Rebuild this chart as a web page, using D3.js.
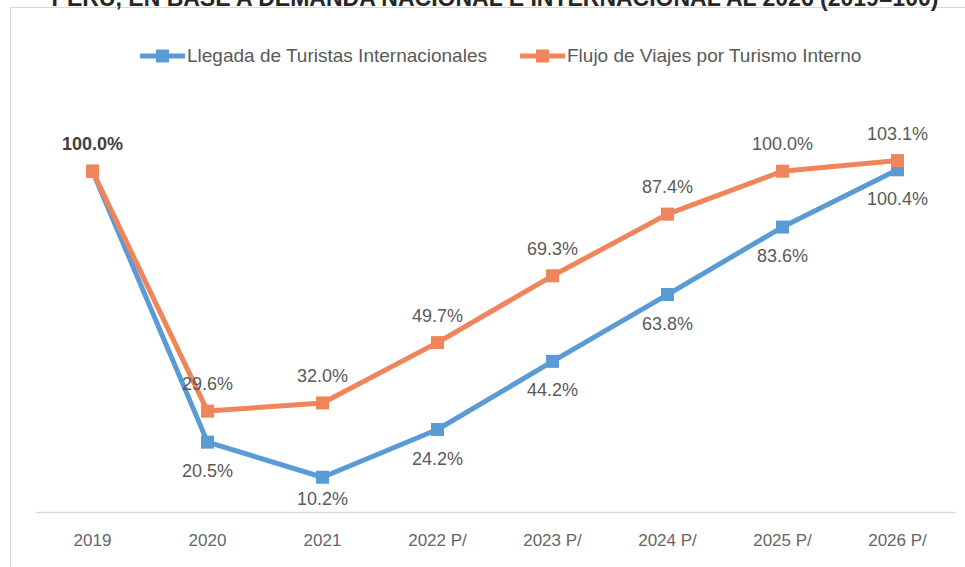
<!DOCTYPE html>
<html>
<head>
<meta charset="utf-8">
<script src="https://cdn.jsdelivr.net/npm/d3@7"></script>
<style>
  body { margin: 0; background: #fff; }
  text { font-family: "Liberation Sans", Arial, sans-serif; }
</style>
</head>
<body>
<div id="chart"></div>
<script>
const years = ["2019", "2020", "2021", "2022 P/", "2023 P/", "2024 P/", "2025 P/", "2026 P/"];
const llegada = [100.0, 20.5, 10.2, 24.2, 44.2, 63.8, 83.6, 100.4];
const flujo = [100.0, 29.6, 32.0, 49.7, 69.3, 87.4, 100.0, 103.1];
const seriesNames = ["Llegada de Turistas Internacionales", "Flujo de Viajes por Turismo Interno"];
const titleText = "PERÚ, EN BASE A DEMANDA NACIONAL E INTERNACIONAL AL 2026 (2019=100)";

const W = 965, H = 567;
const blue = "#5B9BD5", orange = "#F0845A";

const svg = d3.select("#chart")
    .append("svg")
    .attr("width", W)
    .attr("height", H);

// chart frame
svg.append("rect")
    .attr("x", 10.5)
    .attr("y", 7.5)
    .attr("width", W + 10)
    .attr("height", H + 10)
    .attr("fill", "none")
    .attr("stroke", "#d9d9d9");

// title, cut at the top as in the source
svg.append("text")
    .attr("x", 495)
    .attr("y", 6)
    .attr("text-anchor", "middle")
    .attr("font-weight", "bold")
    .attr("font-size", 23)
    .attr("fill", "#262626")
    .text(titleText);

const x = d3.scaleBand()
    .domain(years)
    .range([35, 955]);

const y = d3.scaleLinear()
    .domain([0, 120])
    .range([512, 103]);

// x axis
const xAxis = svg.append("g")
    .attr("transform", "translate(0,512)")
    .call(d3.axisBottom(x).tickSize(0).tickPadding(22));
xAxis.select(".domain").attr("stroke", "#d9d9d9").attr("stroke-width", 1.5);
xAxis.selectAll("text")
    .attr("font-size", 17)
    .attr("fill", "#666")
    .style("font-family", "'Liberation Sans', Arial, sans-serif");

const cx = d => x(d) + x.bandwidth() / 2;

const line = d3.line()
    .x((d, i) => cx(years[i]))
    .y(d => y(d));

const series = [
    {name: seriesNames[0], values: llegada, color: blue},
    {name: seriesNames[1], values: flujo, color: orange}
];

series.forEach(s => {
    svg.append("path")
        .datum(s.values)
        .attr("fill", "none")
        .attr("stroke", s.color)
        .attr("stroke-width", 5)
        .attr("stroke-linejoin", "round")
        .attr("d", line);

    svg.selectAll(null)
        .data(s.values)
        .enter()
        .append("rect")
        .attr("x", (d, i) => cx(years[i]) - 6.5)
        .attr("y", d => y(d) - 6.5)
        .attr("width", 13)
        .attr("height", 13)
        .attr("fill", s.color);
});

// data labels
const fmt = d => d.toFixed(1) + "%";
function label(xv, yv, txt, bold) {
    svg.append("text")
        .attr("x", xv)
        .attr("y", yv)
        .attr("text-anchor", "middle")
        .attr("font-size", 18)
        .attr("font-weight", bold ? "bold" : "normal")
        .attr("fill", bold ? "#404040" : "#595959")
        .text(txt);
}

label(cx(years[0]), y(100) - 21, fmt(100), true);
flujo.forEach((v, i) => {
    if (i === 0) return;
    label(cx(years[i]), y(v) - 21, fmt(v), false);
});
llegada.forEach((v, i) => {
    if (i === 0) return;
    // the 2021 label sits tight over the axis line
    label(cx(years[i]), y(v) + (i === 2 ? 28 : 35), fmt(v), false);
});

// legend
const legend = svg.append("g").attr("transform", "translate(0,56)");
const legendItems = [
    {name: seriesNames[0], color: blue, x: 140},
    {name: seriesNames[1], color: orange, x: 520}
];
legendItems.forEach(l => {
    legend.append("line")
        .attr("x1", l.x)
        .attr("x2", l.x + 45)
        .attr("y1", 0)
        .attr("y2", 0)
        .attr("stroke", l.color)
        .attr("stroke-width", 5);
    legend.append("rect")
        .attr("x", l.x + 16)
        .attr("y", -6.5)
        .attr("width", 13)
        .attr("height", 13)
        .attr("fill", l.color);
    legend.append("text")
        .attr("x", l.x + 47)
        .attr("y", 6)
        .attr("font-size", 19)
        .attr("fill", "#595959")
        .text(l.name);
});
</script>
</body>
</html>
